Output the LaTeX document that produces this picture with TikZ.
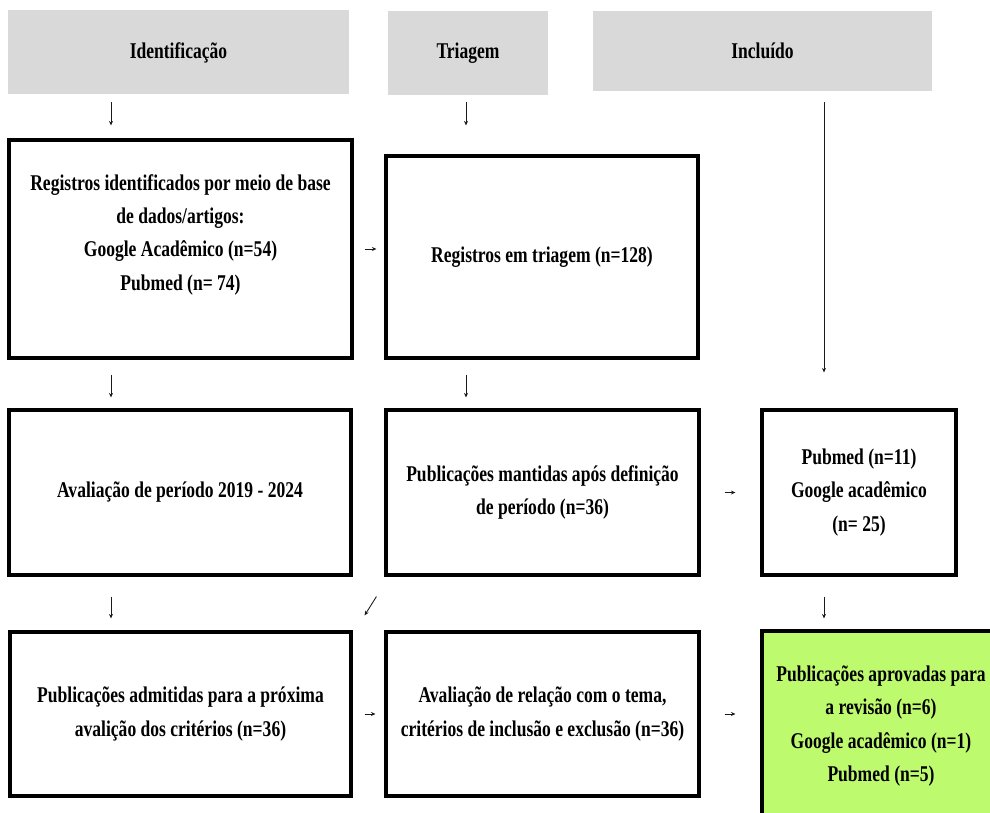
\documentclass[tikz,border=0pt]{standalone}
\usepackage{fontspec}
\newfontfamily\flowserif{Liberation Serif}[FakeStretch=0.78]
\usetikzlibrary{arrows.meta,calc}
\definecolor{flowgray}{HTML}{D9D9D9}
\definecolor{flowgreen}{HTML}{BEFA6E}
\definecolor{flowink}{HTML}{1A1A1A}
\tikzset{
  txt/.style={align=center, inner sep=2pt, font=\flowserif\bfseries\fontsize{12.8}{18.9}\selectfont},
  hd/.style={txt, fill=flowgray},
  bx/.style={txt, draw=black, line width=1.8pt},
  ok/.style={bx, fill=flowgreen},
  arr/.style={-{Stealth[length=0.9mm, width=0.8mm]}, line width=0.5pt, color=flowink},
}
\begin{document}
\begin{tikzpicture}
  \useasboundingbox (0,0) rectangle (19.8,16.24);
  % phase headers
  \node[hd, minimum width=6.82cm, minimum height=1.68cm] (hid) at (3.57,15.19) {Identificação};
  \node[hd, minimum width=3.2cm, minimum height=1.68cm] (htr) at (9.36,15.18) {Triagem};
  \node[hd, minimum width=6.78cm, minimum height=1.6cm] (hin) at (15.25,15.22) {Incluído};
  % boxes
  \node[bx, minimum width=6.86cm, minimum height=4.36cm] (reg) at (3.61,11.26) {Registros identificados por meio de base\\de dados/artigos:\\Google Acadêmico (n=54)\\Pubmed (n= 74)\\ \mbox{}};
  \node[bx, minimum width=6.24cm, minimum height=4.04cm] (tri) at (10.84,11.1) {Registros em triagem (n=128)};
  \node[bx, minimum width=6.84cm, minimum height=3.3cm] (per) at (3.6,6.39) {Avaliação de período 2019 - 2024};
  \node[bx, minimum width=6.26cm, minimum height=3.3cm] (man) at (10.85,6.39) {Publicações mantidas após definição\\de período (n=36)};
  \node[bx, minimum width=3.88cm, minimum height=3.3cm] (pub) at (17.18,6.39) {Pubmed (n=11)\\Google acadêmico\\(n= 25)};
  \node[bx, minimum width=6.82cm, minimum height=3.28cm] (adm) at (3.61,1.96) {Publicações admitidas para a próxima\\avalição dos critérios (n=36)};
  \node[bx, minimum width=6.26cm, minimum height=3.28cm] (rel) at (10.85,1.96) {Avaliação de relação com o tema,\\critérios de inclusão e exclusão (n=36)};
  \node[ok, minimum width=4.76cm, minimum height=3.8cm] (apr) at (17.62,1.72) {Publicações aprovadas para\\a revisão (n=6)\\Google acadêmico (n=1)\\Pubmed (n=5)};
  % arrow columns
  \coordinate (c1) at (2.22,0);
  \coordinate (c2) at (9.32,0);
  \coordinate (c3) at (16.48,0);
  \foreach \a/\b/\c/\s/\e in {hid/reg/c1/1.4/2.6, htr/tri/c2/1.4/5.8, hin/pub/c3/2.2/7.2, reg/per/c1/3/2.2, tri/man/c2/3/2.2, per/adm/c1/4/2.4, pub/apr/c3/4/2.2}
    \draw[arr, shorten <=\s mm, shorten >=\e mm] (\a.south -| \c) -- (\b.north -| \c);
  \foreach \a/\b/\s/\e in {reg/tri/2.2/1.6, adm/rel/2.4/1.8, man/pub/4.8/5, rel/apr/4.8/5}
    \draw[arr, shorten <=\s mm, shorten >=\e mm] (\a.east) -- (\a.east -| \b.west);
  \draw[arr] ($(man.south west)+(-0.16,-0.4)$) -- ($(adm.north east)+(0.24,0.3)$);
\end{tikzpicture}
\end{document}
